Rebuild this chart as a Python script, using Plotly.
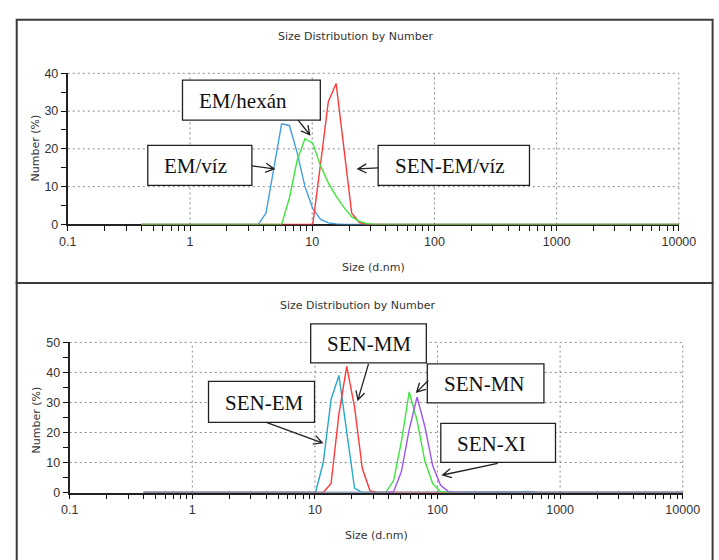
import math
import plotly.graph_objects as go

W, H = 719, 560

# ---------------- data (Zetasizer size bins, d.nm ; number %) ----------------
# Top panel
EM_VIZ_X = [0.4, 3.615, 4.187, 4.849, 5.615, 6.503, 7.531, 8.721, 10.10, 11.70, 13.54, 15.69, 18.17, 10000]
EM_VIZ_Y = [0, 0, 3.0, 14.5, 26.6, 26.2, 19.0, 10.0, 4.2, 1.3, 0.4, 0.1, 0, 0]

SEN_EM_VIZ_X = [0.4, 8.721, 10.10, 11.70, 13.54, 15.69, 18.17, 21.04, 24.36, 28.21, 10000]
SEN_EM_VIZ_Y = [0, 0, 0, 16.0, 32.5, 37.3, 20.0, 3.0, 0.5, 0, 0]

EM_HEXAN_X = [0.4, 5.615, 6.503, 7.531, 8.721, 10.10, 11.70, 13.54, 15.69, 18.17, 21.04, 24.36, 28.21, 32.67, 10000]
EM_HEXAN_Y = [0, 0, 7.0, 17.0, 22.7, 21.5, 15.5, 11.0, 7.5, 4.5, 2.0, 0.8, 0.2, 0, 0]

# Bottom panel
SEN_EM_X = [0.4, 8.721, 10.10, 11.70, 13.54, 15.69, 18.17, 21.04, 24.36, 396.1, 458.7, 531.2, 615.1, 712.4, 10000]
SEN_EM_Y = [0, 0, 0, 10.0, 31.0, 39.0, 21.0, 1.5, 0, 0, 0.2, 0.4, 0.2, 0, 0]

SEN_MM_X = [0.4, 10.10, 11.70, 13.54, 15.69, 18.17, 21.04, 24.36, 28.21, 32.67, 10000]
SEN_MM_Y = [0, 0, 0, 3.0, 26.0, 42.0, 28.5, 8.0, 0.5, 0, 0]

SEN_MN_X = [0.4, 32.67, 37.84, 43.82, 50.75, 58.77, 68.06, 78.82, 91.28, 105.7, 122.4, 10000]
SEN_MN_Y = [0, 0, 0, 4.0, 17.0, 33.5, 24.0, 10.5, 3.0, 0.3, 0, 0]

SEN_XI_X = [0.4, 37.84, 43.82, 50.75, 58.77, 68.06, 78.82, 91.28, 105.7, 122.4, 141.8, 10000]
SEN_XI_Y = [0, 0, 0.3, 7.0, 21.0, 31.8, 22.0, 9.0, 2.5, 0.3, 0, 0]

X_MAJOR = [0.1, 1, 10, 100, 1000, 10000]
X_MAJOR_TEXT = ["0.1", "1", "10", "100", "1000", "10000"]
TOP_YMAJOR = [0, 10, 20, 30, 40]
BOT_YMAJOR = [0, 10, 20, 30, 40, 50]

TITLE = "Size Distribution by Number"
XTITLE = "Size (d.nm)"
YTITLE = "Number (%)"

C_BLUE = "#3f9fe0"
C_RED = "#ff3838"
C_GREEN = "#3de63d"
C_CYAN = "#26a9c9"
C_PURPLE = "#9b55f0"

# ---------------- tick lists (major + minor, minor unlabeled) ----------------
x_tickvals, x_ticktext = [], []
for v, t in zip(X_MAJOR, X_MAJOR_TEXT):
    x_tickvals.append(v)
    x_ticktext.append(t)
    if v < X_MAJOR[-1]:
        for m in range(2, 10):
            x_tickvals.append(v * m)
            x_ticktext.append("")

def y_ticks(major):
    vals, txt = [], []
    for i, v in enumerate(major):
        vals.append(v)
        txt.append(str(v))
        if i < len(major) - 1:
            vals.append((v + major[i + 1]) / 2)
            txt.append("")
    return vals, txt

# ---------------- helpers ----------------
def px(x):
    return x / W

def py(y):
    return 1 - y / H

fig = go.Figure()

def line(x, y, color, xa, ya, name):
    fig.add_trace(go.Scatter(x=x, y=y, mode="lines", name=name,
                             line=dict(color=color, width=1.4),
                             xaxis=xa, yaxis=ya, showlegend=False,
                             hoverinfo="skip"))

line(EM_VIZ_X, EM_VIZ_Y, C_BLUE, "x", "y", "EM/víz")
line(SEN_EM_VIZ_X, SEN_EM_VIZ_Y, C_RED, "x", "y", "SEN-EM/víz")
line(EM_HEXAN_X, EM_HEXAN_Y, C_GREEN, "x", "y", "EM/hexán")

line(SEN_EM_X, SEN_EM_Y, C_CYAN, "x2", "y2", "SEN-EM")
line(SEN_MM_X, SEN_MM_Y, C_RED, "x2", "y2", "SEN-MM")
line(SEN_MN_X, SEN_MN_Y, C_GREEN, "x2", "y2", "SEN-MN")
line(SEN_XI_X, SEN_XI_Y, C_PURPLE, "x2", "y2", "SEN-XI")

TICKFONT = dict(family="Liberation Sans, Arial", size=12.5, color="#333")
X_LOG_RANGE = [math.log10(X_MAJOR[0]), math.log10(X_MAJOR[-1])]

def xaxis(domain, anchor):
    return dict(type="log", range=X_LOG_RANGE, domain=domain, anchor=anchor,
                tickmode="array", tickvals=x_tickvals, ticktext=x_ticktext,
                showline=True, linecolor="#222", linewidth=1.5,
                ticks="outside", ticklen=5, tickcolor="#111", tickwidth=1.3,
                showgrid=False, zeroline=False, tickfont=TICKFONT, fixedrange=True,
                layer="below traces")

def yaxis(domain, anchor, major):
    vals, txt = y_ticks(major)
    return dict(range=[major[0], major[-1]], domain=domain, anchor=anchor,
                tickmode="array", tickvals=vals, ticktext=txt,
                showline=True, linecolor="#222", linewidth=2,
                ticks="outside", ticklen=5, tickcolor="#111", tickwidth=1.3,
                showgrid=False, zeroline=False, tickfont=TICKFONT, fixedrange=True,
                layer="below traces")

fig.update_layout(
    width=W, height=H,
    margin=dict(l=0, r=0, t=0, b=0),
    paper_bgcolor="white", plot_bgcolor="white",
    xaxis=xaxis([px(61), px(695)], "y"),
    yaxis=yaxis([py(223), py(68)], "x", TOP_YMAJOR),
    xaxis2=xaxis([px(63), px(699)], "y2"),
    yaxis2=yaxis([py(498), py(344)], "x2", BOT_YMAJOR),
)

shapes = []
annotations = []

# dotted major gridlines (positions from the axis scales, as domain fractions)
GRIDLINE = dict(color="#8a8a8a", width=1, dash="2px,3px")
for xa, ya, ymaj in [("x", "y", TOP_YMAJOR), ("x2", "y2", BOT_YMAJOR)]:
    for v in X_MAJOR[1:]:
        f = (math.log10(v) - X_LOG_RANGE[0]) / (X_LOG_RANGE[1] - X_LOG_RANGE[0])
        shapes.append(dict(type="line", xref=f"{xa} domain", yref=f"{ya} domain",
                           x0=f, x1=f, y0=0, y1=1, line=GRIDLINE, layer="below"))
    for v in ymaj[1:]:
        f = (v - ymaj[0]) / (ymaj[-1] - ymaj[0])
        shapes.append(dict(type="line", xref=f"{xa} domain", yref=f"{ya} domain",
                           x0=0, x1=1, y0=f, y1=f, line=GRIDLINE, layer="below"))

# outer panel frames
for (y0, y1) in [(13, 283), (283, 580)]:
    shapes.append(dict(type="rect", xref="paper", yref="paper",
                       x0=px(8), x1=px(730), y0=py(y1), y1=py(y0),
                       line=dict(color="#3a3a3a", width=2), layer="above"))

SMALL = dict(family="DejaVu Sans, Verdana", size=11, color="#333")

# titles and axis titles
for (tx, ty) in [(360, 30), (362, 306)]:
    annotations.append(dict(text=TITLE, x=px(tx), y=py(ty), xref="paper", yref="paper",
                            showarrow=False, font=SMALL, xanchor="center", yanchor="middle"))
for (tx, ty) in [(378, 267), (381, 542)]:
    annotations.append(dict(text=XTITLE, x=px(tx), y=py(ty), xref="paper", yref="paper",
                            showarrow=False, font=SMALL, xanchor="center", yanchor="middle"))
for (tx, ty) in [(27, 145), (28, 423)]:
    annotations.append(dict(text=YTITLE, x=px(tx), y=py(ty), xref="paper", yref="paper",
                            showarrow=False, font=SMALL, textangle=-90,
                            xanchor="center", yanchor="middle"))

# label boxes: (text, left, top, right, bottom)
BOXES = [
    ("EM/hexán", 180, 75, 323, 116),
    ("EM/víz", 144, 142, 252, 183),
    ("SEN-EM/víz", 383, 142, 540, 183),
    ("SEN-EM", 207, 384, 317, 426),
    ("SEN-MM", 313, 325, 433, 365),
    ("SEN-MN", 434, 366, 555, 406),
    ("SEN-XI", 448, 427, 567, 467),
]
SERIF = dict(family="Liberation Serif, Times New Roman", size=21, color="#111")
for (t, l, tp, r, b) in BOXES:
    shapes.append(dict(type="rect", xref="paper", yref="paper",
                       x0=px(l), x1=px(r), y0=py(b), y1=py(tp),
                       line=dict(color="#222", width=1.3), fillcolor="white",
                       layer="above"))
    annotations.append(dict(text=t, x=px(l + 15), y=py((tp + b) / 2 + 1),
                            xref="paper", yref="paper", showarrow=False,
                            font=SERIF, xanchor="left", yanchor="middle"))

# arrows: (tail_x, tail_y, tip_x, tip_y) in pixels
ARROWS = [
    (300, 116, 312, 131),
    (252, 163, 275, 166),
    (383, 165, 362, 166),
    (267, 426, 325, 447),
    (373, 366, 362, 403),
    (435, 383, 423, 395),
    (507, 468, 450, 480),
]
for (x0, y0, x1, y1) in ARROWS:
    ang = math.atan2(y1 - y0, x1 - x0)
    L, a = 10, math.radians(28)
    hx1 = x1 - L * math.cos(ang - a)
    hy1 = y1 - L * math.sin(ang - a)
    hx2 = x1 - L * math.cos(ang + a)
    hy2 = y1 - L * math.sin(ang + a)
    path = (f"M {px(x0)} {py(y0)} L {px(x1)} {py(y1)} "
            f"M {px(hx1)} {py(hy1)} L {px(x1)} {py(y1)} L {px(hx2)} {py(hy2)}")
    shapes.append(dict(type="path", xref="paper", yref="paper", path=path,
                       line=dict(color="#222", width=1.3), layer="above"))

fig.update_layout(shapes=shapes, annotations=annotations)
fig.write_html("out.html")
